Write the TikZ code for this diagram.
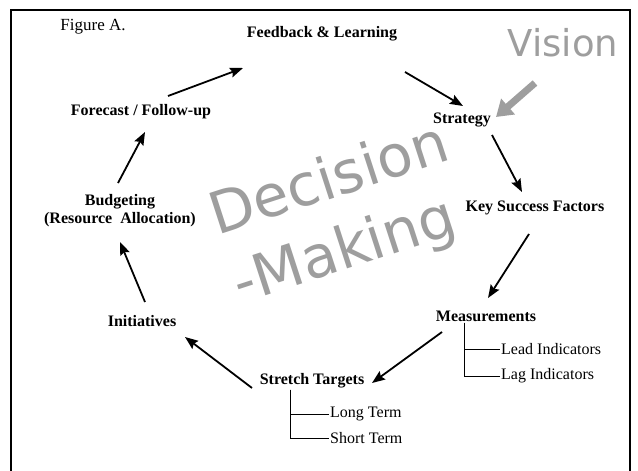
\documentclass[tikz,border=0pt]{standalone}
\usepackage{fontspec}
\setmainfont{Liberation Serif}
\newfontfamily\roundsans{DejaVu Sans}
\usetikzlibrary{calc,arrows.meta}

\begin{document}
\begin{tikzpicture}[x=1pt,y=-1pt,
  lbl/.style={font=\fontsize{16}{18}\selectfont\bfseries, inner sep=1pt},
  sub/.style={font=\fontsize{16}{18}\selectfont, anchor=west, inner sep=1pt},
  arr/.style={line width=1.8pt, -{Stealth[length=13pt,width=10pt,inset=2pt]}},
  big/.style={black!38, font=\roundsans\fontsize{58}{58}\selectfont, rotate=18}]
\useasboundingbox (0,0) rectangle (638,471);
\fill[white] (0,0) rectangle (638,471);
\draw[line width=1.6pt] (11,471) -- (11,10) -- (630,10) -- (630,471);

% big gray words behind the cycle
\node[big] (dec) at (328,177) {Decision};
\node[big] (mak) at (345,253) {-Making};
\node[black!38, font=\roundsans\fontsize{37}{37}\selectfont] (vision) at (563,43) {Vision};

\node[font=\fontsize{17}{19}\selectfont] (figa) at (93,27) {Figure A.};

% the cycle
\node[lbl] (feedback) at (322,34) {Feedback \& Learning};
\node[lbl] (strat) at (462,120) {Strategy};
\node[lbl] (ksf) at (535,208) {Key Success Factors};
\node[lbl] (meas) at (486,316) {Measurements};
\node[lbl] (stretch) at (312,381) {Stretch Targets};
\node[lbl] (init) at (142,321) {Initiatives};
\node[lbl, align=center] (budget) at (120,211) {Budgeting\\(Resource\ \ Allocation)};
\node[lbl] (forecast) at (141,112) {Forecast / Follow-up};

% sub items
\node[sub] (lead) at (500,349) {Lead Indicators};
\node[sub] (lag) at (500,376) {Lag Indicators};
\node[sub] (long) at (329,414) {Long Term};
\node[sub] (short) at (329,438) {Short Term};
\draw[line width=0.8pt] ($(meas.south)+(-22,0)$) |- (lead.west);
\draw[line width=0.8pt] ($(meas.south)+(-22,0)$) |- (lag.west);
\draw[line width=0.8pt] ($(stretch.south)+(-22,0)$) |- (long.west);
\draw[line width=0.8pt] ($(stretch.south)+(-22,0)$) |- (short.west);

% arrows round the loop
\draw[arr] ($(forecast)+(27,-16)$) -- ($(feedback)+(-79,34)$);
\draw[arr] ($(feedback)+(83,38)$) -- ($(strat)+(1,-14)$);
\draw[arr] ($(strat)+(30,15)$) -- ($(ksf)+(-13,-16)$);
\draw[arr] ($(ksf)+(-6,26)$) -- ($(meas)+(2,-18)$);
\draw[arr] ($(meas)+(-44,16)$) -- ($(stretch)+(60,2)$);
\draw[arr] ($(stretch)+(-60,7)$) -- ($(init)+(43,16)$);
\draw[arr] ($(init)+(3,-19)$) -- ($(budget)+(0,31)$);
\draw[arr] ($(budget)+(-2,-28)$) -- ($(forecast)+(4,20)$);

% vision feeding strategy
\draw[black!38, line width=7pt, -{Triangle[length=16pt,width=20pt]}] ($(vision)+(-28,40)$) -- ($(strat)+(34,-3)$);
\end{tikzpicture}
\end{document}
